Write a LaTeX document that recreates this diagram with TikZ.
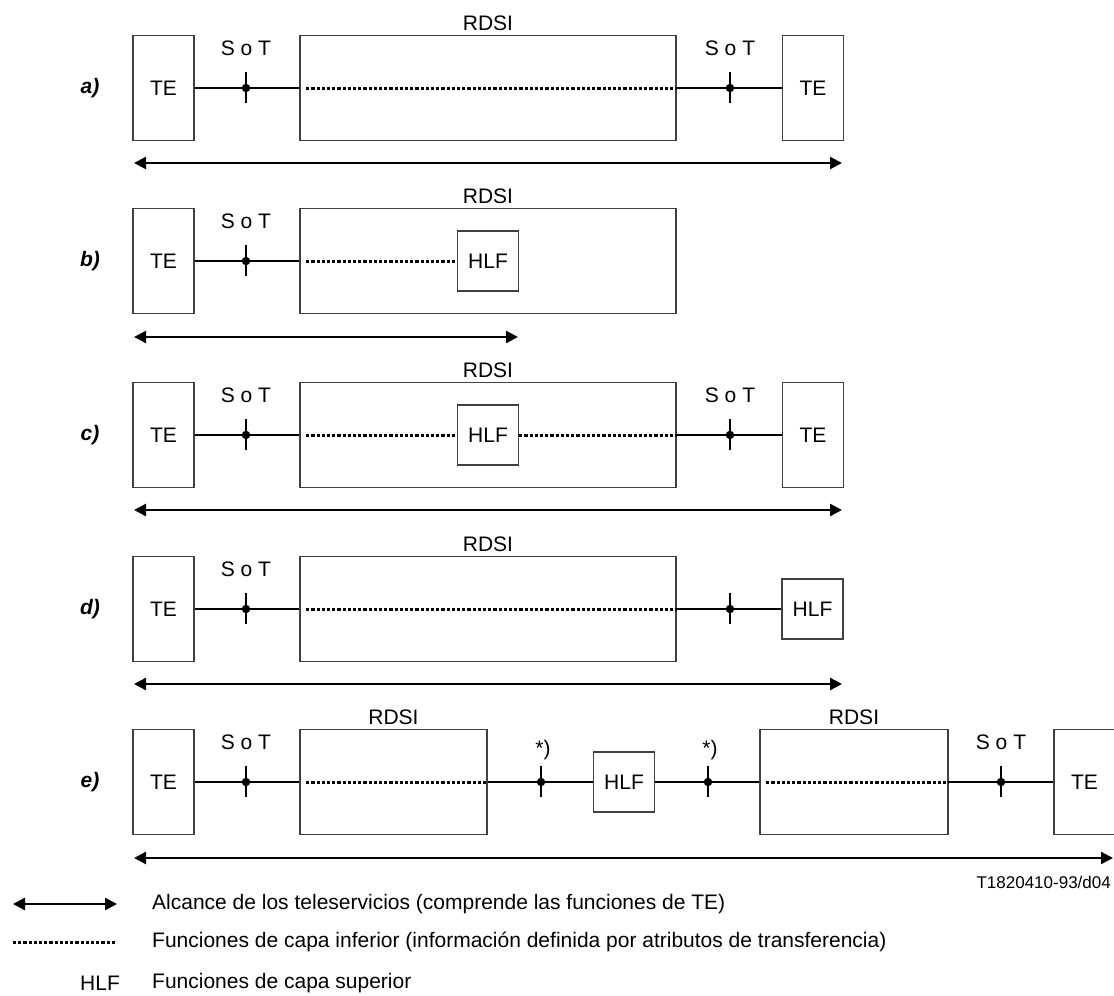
\documentclass[tikz,border=0pt]{standalone}
\usepackage{fontspec}
\setmainfont{Liberation Sans}
\usetikzlibrary{arrows.meta}
\newcommand\refmark[1]{
  \draw[conn] (#1) ++(0,-16) -- ++(0,31);
}

\begin{document}
\begin{tikzpicture}[x=1pt, y=-1pt,
  box/.style = {draw=black!75, line width=1.5pt, inner sep=0pt, font=\fontsize{21}{25}\selectfont},
  tebox/.style = {box, minimum width=61pt, minimum height=105pt},
  net/.style = {box, minimum height=105pt},
  hlf/.style = {box, minimum width=61pt, minimum height=60pt},
  refpt/.style = {circle, fill, inner sep=0pt, minimum size=8.5pt},
  conn/.style = {line width=2.6pt},
  lowfn/.style = {line width=3pt, dash pattern=on 3.2pt off 2pt},
  reach/.style = {line width=2.4pt, {Triangle[length=12pt,width=12pt]}-{Triangle[length=12pt,width=12pt]}},
  lbl/.style = {inner sep=0pt, font=\fontsize{21}{25}\selectfont},
  rowlbl/.style = {inner sep=0pt, font=\fontsize{21}{25}\selectfont\bfseries\itshape},
  keytxt/.style = {anchor=west, inner sep=0pt, font=\fontsize{21}{25}\selectfont}]
	\useasboundingbox (0,0) rectangle (1114,996);
	% a)
	\node[rowlbl] (rowa) at (90, 88) {a)};
	\node[tebox] (TEa1) at (163.5, 88) {TE};
	\node[refpt] (Sa1) at (246, 88) {};
	\node[net, minimum width=376pt] (RDSIa) at (488, 88) {};
	\node[refpt] (Sa2) at (730, 88) {};
	\node[tebox] (TEa2) at (813, 88) {TE};
	\node[lbl] (SoTa1) at (246, 48) {S o T};
	\node[lbl] (SoTa2) at (730, 48) {S o T};
	\node[lbl] (Ra) at (488, 23) {RDSI};
	\draw[conn] (TEa1) -- (Sa1) -- (RDSIa);
	\draw[conn] (RDSIa) -- (Sa2) -- (TEa2);
	\draw[lowfn] ([xshift=7pt]RDSIa.west) -- (RDSIa.east);
	\refmark{Sa1} \refmark{Sa2}
	\coordinate (ya1) at (134, 163);
	\coordinate (ya2) at (842, 163);
	\draw[reach] (ya1) -- (ya2);
	% b)
	\node[rowlbl] (rowb) at (90, 261) {b)};
	\node[tebox] (TEb) at (163.5, 261) {TE};
	\node[refpt] (Sb) at (246, 261) {};
	\node[net, minimum width=376pt] (RDSIb) at (488, 261) {};
	\node[hlf] (HLFb) at (488, 261) {HLF};
	\node[lbl] (SoTb) at (246, 221) {S o T};
	\node[lbl] (Rb) at (488, 196) {RDSI};
	\draw[conn] (TEb) -- (Sb) -- (RDSIb);
	\draw[lowfn] ([xshift=7pt]RDSIb.west) -- (HLFb.west);
	\refmark{Sb}
	\coordinate (yb1) at (134, 337);
	\coordinate (yb2) at (518, 337);
	\draw[reach] (yb1) -- (yb2);
	% c)
	\node[rowlbl] (rowc) at (90, 435) {c)};
	\node[tebox] (TEc1) at (163.5, 435) {TE};
	\node[refpt] (Sc1) at (246, 435) {};
	\node[net, minimum width=376pt] (RDSIc) at (488, 435) {};
	\node[hlf] (HLFc) at (488, 435) {HLF};
	\node[refpt] (Sc2) at (730, 435) {};
	\node[tebox] (TEc2) at (813, 435) {TE};
	\node[lbl] (SoTc1) at (246, 395) {S o T};
	\node[lbl] (SoTc2) at (730, 395) {S o T};
	\node[lbl] (Rc) at (488, 370) {RDSI};
	\draw[conn] (TEc1) -- (Sc1) -- (RDSIc);
	\draw[conn] (RDSIc) -- (Sc2) -- (TEc2);
	\draw[lowfn] ([xshift=7pt]RDSIc.west) -- (HLFc.west);
	\draw[lowfn] (HLFc.east) -- (RDSIc.east);
	\refmark{Sc1} \refmark{Sc2}
	\coordinate (yc1) at (134, 510);
	\coordinate (yc2) at (842, 510);
	\draw[reach] (yc1) -- (yc2);
	% d)
	\node[rowlbl] (rowd) at (90, 609) {d)};
	\node[tebox] (TEd) at (163.5, 609) {TE};
	\node[refpt] (Sd1) at (246, 609) {};
	\node[net, minimum width=376pt] (RDSId) at (488, 609) {};
	\node[refpt] (Sd2) at (730, 609) {};
	\node[hlf] (HLFd) at (812.5, 609) {HLF};
	\node[lbl] (SoTd) at (246, 569) {S o T};
	\node[lbl] (Rd) at (488, 544) {RDSI};
	\draw[conn] (TEd) -- (Sd1) -- (RDSId);
	\draw[conn] (RDSId) -- (Sd2) -- (HLFd);
	\draw[lowfn] ([xshift=7pt]RDSId.west) -- (RDSId.east);
	\refmark{Sd1} \refmark{Sd2}
	\coordinate (yd1) at (134, 684);
	\coordinate (yd2) at (842, 684);
	\draw[reach] (yd1) -- (yd2);
	% e)
	\node[rowlbl] (rowe) at (90, 782) {e)};
	\node[tebox] (TEe1) at (163.5, 782) {TE};
	\node[refpt] (Se1) at (246, 782) {};
	\node[net, minimum width=187pt] (RDSIe1) at (393.5, 782) {};
	\node[refpt] (Ae1) at (541, 782) {};
	\node[hlf] (HLFe) at (624, 782) {HLF};
	\node[refpt] (Ae2) at (708, 782) {};
	\node[net, minimum width=188pt] (RDSIe2) at (854, 782) {};
	\node[refpt] (Se2) at (1001, 782) {};
	\node[tebox] (TEe2) at (1084.5, 782) {TE};
	\node[lbl] (SoTe1) at (246, 742) {S o T};
	\node[lbl] (SoTe2) at (1001, 742) {S o T};
	\node[lbl] (Re1) at (393.5, 717) {RDSI};
	\node[lbl] (Re2) at (854, 717) {RDSI};
	\node[lbl] (ast1) at (543, 750) {*)};
	\node[lbl] (ast2) at (710, 750) {*)};
	\draw[conn] (TEe1) -- (Se1) -- (RDSIe1);
	\draw[conn] (RDSIe1) -- (Ae1) -- (HLFe);
	\draw[conn] (HLFe) -- (Ae2) -- (RDSIe2);
	\draw[conn] (RDSIe2) -- (Se2) -- (TEe2);
	\draw[lowfn] ([xshift=7pt]RDSIe1.west) -- (RDSIe1.east);
	\draw[lowfn] ([xshift=7pt]RDSIe2.west) -- (RDSIe2.east);
	\refmark{Se1} \refmark{Ae1} \refmark{Ae2} \refmark{Se2}
	\coordinate (ye1) at (134, 858);
	\coordinate (ye2) at (1113, 858);
	\draw[reach] (ye1) -- (ye2);
	\node[anchor=east, inner sep=0pt, font=\fontsize{17}{20}\selectfont] (code) at (1111, 882) {T1820410-93/d04};
	% key
	\coordinate (ka1) at (13, 904);
	\coordinate (ka2) at (117, 904);
	\draw[reach] (ka1) -- (ka2);
	\node[keytxt] (keya) at (152, 904) {Alcance de los teleservicios (comprende las funciones de TE)};
	\coordinate (kb1) at (13, 942);
	\coordinate (kb2) at (117, 942);
	\draw[lowfn] (kb1) -- (kb2);
	\node[keytxt] (keyb) at (152, 942) {Funciones de capa inferior (información definida por atributos de transferencia)};
	\node[keytxt] (keyc0) at (80, 983) {HLF};
	\node[keytxt] (keyc) at (152, 983) {Funciones de capa superior};
\end{tikzpicture}
\end{document}
